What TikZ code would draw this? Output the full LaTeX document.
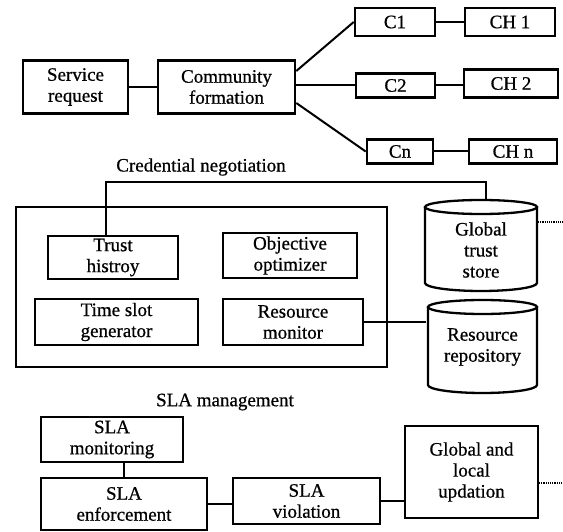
\documentclass[tikz,border=0pt]{standalone}
\usepackage{fontspec}
\setmainfont{Liberation Serif}[FakeBold=0.7]
\begin{document}
\begin{tikzpicture}[x=1pt,y=-1pt,
  every node/.style={font=\fontsize{19}{21}\selectfont, inner sep=0pt},
  box/.style={draw, line width=2.6pt, align=center},
  link/.style={line width=2pt},
  cyl/.style={line width=2.3pt},
  dotlink/.style={line width=1.4pt, dash pattern=on 1.2pt off 1pt}]
\useasboundingbox (0,0) rectangle (563,532);
% top row
\node[box, minimum width=105pt, minimum height=53pt] (sr) at (75.5,87) {Service\\request};
\node[box, minimum width=137pt, minimum height=53pt] (cf) at (226.5,87) {Community\\formation};
\node[box, minimum width=80pt, minimum height=28pt] (c1) at (395,22) {C1};
\node[box, minimum width=90pt, minimum height=28pt] (ch1) at (510,22) {CH 1};
\node[box, minimum width=79pt, minimum height=24pt] (c2) at (395.5,85.5) {C2};
\node[box, minimum width=94pt, minimum height=28pt] (ch2) at (511,83.5) {CH 2};
\node[box, minimum width=66pt, minimum height=24pt] (cn) at (400,151.5) {Cn};
\node[box, minimum width=88pt, minimum height=24pt] (chn) at (513,151.5) {CH n};
\draw[link] (sr.east) -- (cf.west);
\draw[link] ([yshift=16pt]cf.east) -- (c1.west);
\draw[link] (c2.west -| cf.east) -- (c2.west);
\draw[link] ([yshift=-16pt]cf.east) -- (cn.west);
\draw[link] (c1.east) -- (ch1.west);
\draw[link] (c2.east) -- (c2.east -| ch2.west);
\draw[link] (cn.east) -- (chn.west);
% credential negotiation
\node (credlbl) at (201,167) {Credential negotiation};
\node[box, minimum width=371pt, minimum height=160pt] (credbox) at (201.5,287) {};
\node[box, minimum width=130pt, minimum height=43pt] (th) at (113,257.5) {Trust\\histroy};
\node[box, minimum width=134pt, minimum height=45pt] (oo) at (290,255.5) {Objective\\optimizer};
\node[box, minimum width=163pt, minimum height=46pt] (ts) at (116.5,322) {Time slot\\generator};
\node[box, minimum width=140pt, minimum height=46pt] (rm) at (293,322) {Resource\\monitor};
% global trust store cylinder
\draw[cyl] (425,207) -- (425,283) arc[start angle=180, end angle=360, x radius=56pt, y radius=8pt] -- (537,207);
\draw[cyl] (481,207) ellipse[x radius=56pt, y radius=7pt];
\node[align=center] (gts) at (481,250) {Global\\trust\\store};
\coordinate (gtsTop) at (486,200);
\coordinate (gtsRise) at (486,182);
\coordinate (gtsR) at (538,222);
\coordinate (gtsOut) at (563,222);
\draw[link] ([xshift=-7pt]th.north) |- (gtsRise) -- (gtsTop);
\draw[dotlink] (gtsR) -- (gtsOut);
% resource repository cylinder
\draw[cyl] (428,307) -- (428,385) arc[start angle=180, end angle=360, x radius=54.5pt, y radius=8pt] -- (537,307);
\draw[cyl] (482.5,307) ellipse[x radius=54.5pt, y radius=7pt];
\node[align=center] (rr) at (482.5,347) {Resource\\repository};
\coordinate (rrL) at (426,322);
\draw[link] (rm.east) -- (rrL);
% SLA management
\node (slalbl) at (225,402) {SLA management};
\node[box, minimum width=142pt, minimum height=45pt] (mon) at (112,439.5) {SLA\\monitoring};
\node[box, minimum width=166pt, minimum height=52pt] (enf) at (124,504) {SLA\\enforcement};
\node[box, minimum width=147pt, minimum height=46pt] (vio) at (306.5,501) {SLA\\violation};
\node[box, minimum width=133pt, minimum height=92pt] (upd) at (471.5,472) {Global and\\local\\updation};
\coordinate (updR) at (539,483);
\coordinate (updOut) at (563,483);
\draw[link] (enf.north) -- (enf.north |- mon.south);
\draw[link] (enf.east) -- (enf.east -| vio.west);
\draw[link] (vio.east) -- (vio.east -| upd.west);
\draw[dotlink] (updR) -- (updOut);
\end{tikzpicture}
\end{document}
